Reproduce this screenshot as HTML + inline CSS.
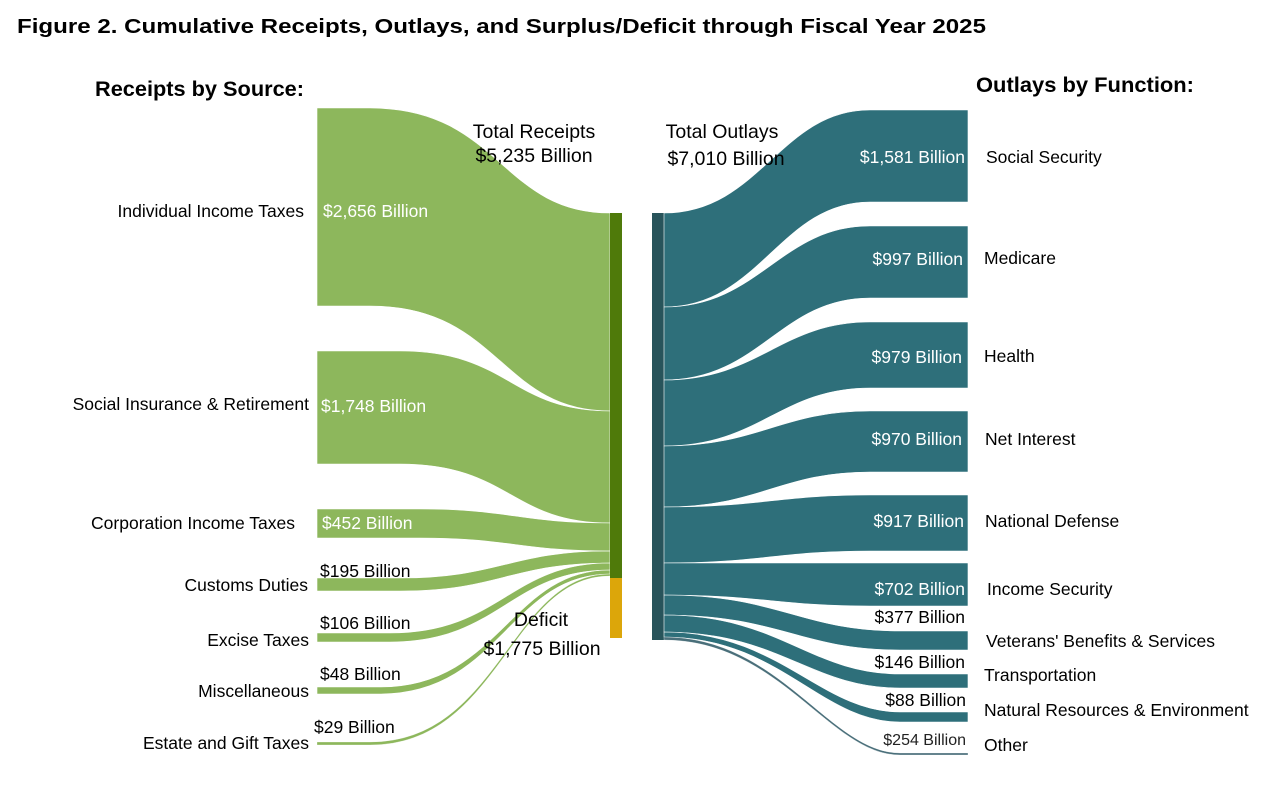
<!DOCTYPE html>
<html><head><meta charset="utf-8"><style>
body{margin:0;background:#fff;font-family:"Liberation Sans",Arial,sans-serif}
svg text{font-family:"Liberation Sans",Arial,sans-serif}
</style></head><body>
<svg width="1266" height="791" viewBox="0 0 1266 791" xmlns="http://www.w3.org/2000/svg">
<text x="17" y="33" font-size="20.5" font-weight="bold" fill="#000" textLength="969" lengthAdjust="spacingAndGlyphs">Figure 2. Cumulative Receipts, Outlays, and Surplus/Deficit through Fiscal Year 2025</text>
<text x="95" y="96" font-size="21.5" font-weight="bold" textLength="209" lengthAdjust="spacingAndGlyphs">Receipts by Source:</text>
<text x="976" y="92" font-size="21.5" font-weight="bold" textLength="218" lengthAdjust="spacingAndGlyphs">Outlays by Function:</text>
<g fill="#8db75c" stroke="#ffffff" stroke-width="0.6">
<path d="M317,108 H370 C500,108 500,213 610,213 V411 C500,411 500,306 370,306 H317 Z"/>
<path d="M317,351 H400 C510,351 510,411 610,411 V523 C510,523 510,464 400,464 H317 Z"/>
<path d="M317,509 H420 C510,509 520,523 610,523 V551 C520,551 510,538 420,538 H317 Z"/>
<path d="M317,578 H400 C500,578 510,551 610,551 V563 C510,563 500,591 400,591 H317 Z"/>
<path d="M317,633 H390 C500,633 510,563 610,563 V570 C510,570 500,642 390,642 H317 Z"/>
<path d="M317,687 H380 C500,687 510,570 610,570 V574 C510,574 500,694 380,694 H317 Z"/>
<path d="M317,742 H370 C500,742 510,574 610,574 V576 C510,576 500,745 370,745 H317 Z" stroke-width="0.3"/>
</g>
<rect x="610" y="213" width="12" height="365" fill="#4f7a0a"/>
<rect x="610" y="578" width="12" height="60" fill="#dca60a"/>
<rect x="652" y="213" width="12" height="427" fill="#28545b"/>
<g fill="#2e6f7a" stroke="#ffffff" stroke-width="0.6">
<path d="M664,213 C760,213 780,110 870,110 H968 V202 H870 C780,202 760,307 664,307 Z"/>
<path d="M664,307 C760,307 780,226 870,226 H968 V298 H870 C780,298 760,380 664,380 Z"/>
<path d="M664,380 C760,380 780,322 870,322 H968 V388 H870 C780,388 760,446 664,446 Z"/>
<path d="M664,446 C760,446 780,411 870,411 H968 V472 H870 C780,472 760,507 664,507 Z"/>
<path d="M664,507 C760,507 780,495 870,495 H968 V551 H870 C780,551 760,563 664,563 Z"/>
<path d="M664,563 H968 V606 H870 C780,606 760,595 664,595 Z"/>
<path d="M664,595 C780,595 800,631 900,631 H968 V650 H900 C800,650 780,615 664,615 Z"/>
<path d="M664,615 C780,615 810,674 900,674 H968 V688 H900 C810,688 780,632 664,632 Z"/>
<path d="M664,632 C780,632 820,712 900,712 H968 V722 H900 C820,722 780,637 664,637 Z"/>
<path d="M664,637 C780,637 830,753 900,753 H968 V755 H900 C830,755 780,640 664,640 Z" fill="#4a6f7a" stroke-width="0.3"/>
</g>
<g font-size="17.5" fill="#000">
<text x="304" y="217" text-anchor="end">Individual Income Taxes</text>
<text x="309" y="410" text-anchor="end">Social Insurance &amp; Retirement</text>
<text x="295" y="529" text-anchor="end">Corporation Income Taxes</text>
<text x="308" y="591" text-anchor="end">Customs Duties</text>
<text x="309" y="646" text-anchor="end">Excise Taxes</text>
<text x="309" y="697" text-anchor="end">Miscellaneous</text>
<text x="309" y="749" text-anchor="end">Estate and Gift Taxes</text>
<text x="320" y="577">$195 Billion</text>
<text x="320" y="629">$106 Billion</text>
<text x="320" y="680">$48 Billion</text>
<text x="314" y="733">$29 Billion</text>
</g>
<g font-size="17.5" fill="#fff">
<text x="323" y="217">$2,656 Billion</text>
<text x="321" y="412">$1,748 Billion</text>
<text x="322" y="529">$452 Billion</text>
<text x="965" y="163" text-anchor="end">$1,581 Billion</text>
<text x="963" y="265" text-anchor="end">$997 Billion</text>
<text x="962" y="363" text-anchor="end">$979 Billion</text>
<text x="962" y="445" text-anchor="end">$970 Billion</text>
<text x="964" y="527" text-anchor="end">$917 Billion</text>
<text x="965" y="595" text-anchor="end">$702 Billion</text>
</g>
<g font-size="17.5" fill="#000">
<text x="965" y="623" text-anchor="end">$377 Billion</text>
<text x="965" y="668" text-anchor="end">$146 Billion</text>
<text x="966" y="706" text-anchor="end">$88 Billion</text>
<text x="966" y="745" text-anchor="end" font-size="16" fill="#222">$254 Billion</text>
<text x="986" y="163">Social Security</text>
<text x="984" y="264">Medicare</text>
<text x="984" y="362">Health</text>
<text x="985" y="445">Net Interest</text>
<text x="985" y="527">National Defense</text>
<text x="987" y="595">Income Security</text>
<text x="986" y="647">Veterans' Benefits &amp; Services</text>
<text x="984" y="681">Transportation</text>
<text x="984" y="716">Natural Resources &amp; Environment</text>
<text x="984" y="751">Other</text>
</g>
<g font-size="19.5" fill="#000" text-anchor="middle">
<text x="534" y="138">Total Receipts</text>
<text x="534" y="162">$5,235 Billion</text>
<text x="722" y="138">Total Outlays</text>
<text x="726" y="165">$7,010 Billion</text>
<text x="541" y="626">Deficit</text>
<text x="542" y="655">$1,775 Billion</text>
</g>
</svg>
</body></html>
